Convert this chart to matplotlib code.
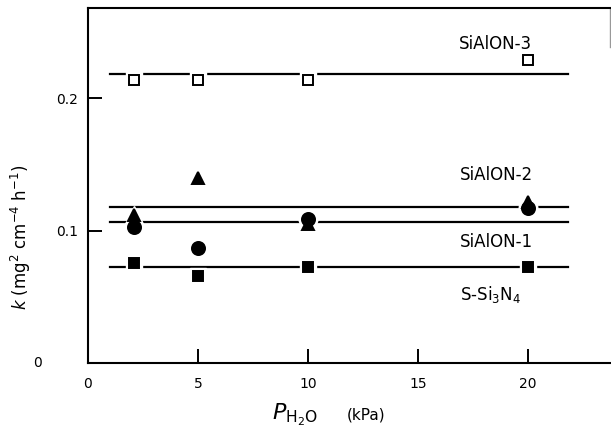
import matplotlib.pyplot as plt

plt.rcParams['font.family'] = 'DejaVu Sans'
plt.rcParams['mathtext.default'] = 'regular'

# water vapour partial pressure (kPa)
p_h2o = [2.1, 5, 10, 20]

# parabolic rate constants k (mg^2 cm^-4 h^-1)
k_sialon3 = [0.214, 0.214, 0.214, 0.229]
k_sialon2 = [0.112, 0.140, 0.105, 0.122]
k_sialon1 = [0.103, 0.087, 0.109, 0.117]
k_si3n4 = [0.076, 0.066, 0.073, 0.073]

# mean k of each material, drawn as a flat line over this pressure range
fit_range = [1.0, 21.8]
fit_sialon3 = 0.218
fit_sialon2 = 0.118
fit_sialon1 = 0.1067
fit_si3n4 = 0.073

series = [
    # values, fit level, marker, size, face, label, label x, label baseline y
    (k_sialon3, fit_sialon3, 's', 7.9, 'white', 'SiAlON-3', 16.85, 0.237),
    (k_sialon2, fit_sialon2, '^', 8.6, 'black', 'SiAlON-2', 16.9, 0.1383),
    (k_sialon1, fit_sialon1, 'o', 9.4, 'black', 'SiAlON-1', 16.9, 0.088),
    (k_si3n4, fit_si3n4, 's', 7.9, 'black', r'S-Si$_3$N$_4$', 16.9, 0.0478),
]

fig = plt.figure(figsize=(6.11, 4.37), dpi=100)
ax = fig.add_axes([0.144, 0.1686, 0.8543, 0.812])

for vals, level, marker, ms, face, name, tx, ty in series:
    ax.plot(fit_range, [level, level], color='black', lw=1.6, zorder=1)
    # white halo so the fit line breaks around each point
    ax.plot(p_h2o, vals, linestyle='none', marker=marker, ms=ms + 4,
            mfc='white', mec='white', zorder=2)
    ax.plot(p_h2o, vals, linestyle='none', marker=marker, ms=ms,
            mfc=face, mec='black', mew=1.4, zorder=3)
    ax.text(tx, ty, name, fontsize=12, ha='left', va='baseline')

ax.set_xlim(0, 23.73)
ax.set_ylim(0, 0.2678)

ax.set_xticks([0, 5, 10, 15, 20])
ax.set_yticks([0.1, 0.2])
ax.set_yticklabels(['0.1', '0.2'])
ax.tick_params(direction='in', length=10, width=1.4, labelsize=10)
ax.tick_params(axis='x', pad=9.5)
ax.tick_params(axis='y', pad=7)
ax.text(-0.0975, 0, '0', transform=ax.get_yaxis_transform(),
        fontsize=10, ha='center', va='center')

for side in ['left', 'top', 'bottom']:
    ax.spines[side].set_linewidth(1.5)
ax.spines['right'].set_bounds(0.2387, 0.2678)
ax.spines['right'].set_linewidth(1.0)
ax.spines['right'].set_color('0.6')

ax.set_ylabel(r'$\it{k}$ (mg$^2$ cm$^{-4}$ h$^{-1}$)', fontsize=12, va='center')
ax.yaxis.set_label_coords(-0.128, 0.355)

ax.set_xlabel(r'$\it{P}_{\mathrm{H_2O}}$', fontsize=16, ha='left', va='baseline')
ax.xaxis.set_label_coords(0.353, -0.158)
ax.text(0.495, -0.158, '(kPa)', transform=ax.transAxes, fontsize=11,
        ha='left', va='baseline')

fig.savefig('out.png', dpi=100)
